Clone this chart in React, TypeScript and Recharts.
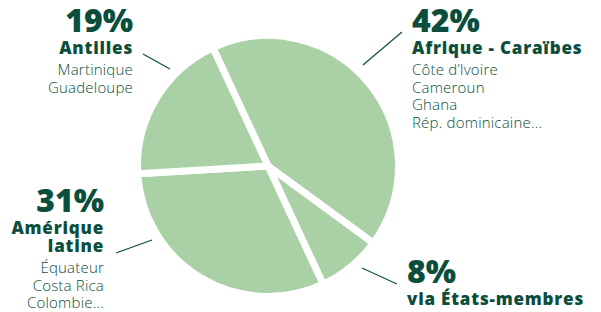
import React from 'react';
import { PieChart, Pie, Cell } from 'recharts';

const regions = ['Afrique - Caraïbes', 'via États-membres', 'Amérique latine', 'Antilles'];
const shares = [42, 8, 31, 19];
const titleLines = [['Afrique - Caraïbes'], ['via États-membres'], ['Amérique', 'latine'], ['Antilles']];
const countryLines = [
  ['Côte d’Ivoire', 'Cameroun', 'Ghana', 'Rép. dominicaine...'],
  [],
  ['Équateur', 'Costa Rica', 'Colombie...'],
  ['Martinique', 'Guadeloupe'],
];

const data = regions.map((name, i) => ({ name, value: shares[i] }));

const GREEN = '#aad0a6';
const INK = '#0b4e3c';
const FONT = '"Open Sans", sans-serif';

// label placement relative to the pie centre
const layout = [
  { anchor: 'start', x: 144, y: -134, line: [95, -101, 134, -134] },
  { anchor: 'start', x: 139, y: 117, line: [94, 102, 129, 118] },
  { anchor: 'end', x: -164, y: 46, line: [-116, 74, -152, 87] },
  { anchor: 'end', x: -135, y: -134, line: [-98, -97, -125, -112] },
];

function renderLabel(props: any) {
  const { cx, cy, index } = props;
  const l = layout[index];
  const x = cx + l.x;
  const y = cy + l.y;
  const titles = titleLines[index];
  const countries = countryLines[index];
  const lastTitleY = y + 22 + (titles.length - 1) * 18;
  return (
    <g key={`lbl-${index}`}>
      <line
        x1={cx + l.line[0]}
        y1={cy + l.line[1]}
        x2={cx + l.line[2]}
        y2={cy + l.line[3]}
        stroke={INK}
        strokeWidth={1.2}
      />
      <text x={x} y={y} textAnchor={l.anchor} fill={INK} fontFamily={FONT} fontWeight={800} fontSize={32}>
        {shares[index]}%
      </text>
      {titles.map((t, j) => (
        <text
          key={t}
          x={x}
          y={y + 22 + j * 18}
          textAnchor={l.anchor}
          fill={INK}
          fontFamily={FONT}
          fontWeight={800}
          fontSize={17}
          letterSpacing={0.8}
        >
          {t}
        </text>
      ))}
      {countries.map((c, j) => (
        <text
          key={c}
          x={x}
          y={lastTitleY + 21 + j * 17.5}
          textAnchor={l.anchor}
          fill={INK}
          fontFamily={FONT}
          fontWeight={300}
          fontSize={15}
          letterSpacing={0.2}
        >
          {c}
        </text>
      ))}
    </g>
  );
}

export default function App() {
  return (
    <div style={{ position: 'absolute', left: 0, top: 0, width: 601, height: 312, background: '#fff' }}>
      <PieChart width={601} height={312} margin={{ top: 0, right: 0, bottom: 0, left: 0 }}>
        <Pie
          data={data}
          dataKey="value"
          nameKey="name"
          cx={268}
          cy={166}
          innerRadius={0}
          outerRadius={130.5}
          startAngle={115}
          endAngle={-245}
          stroke="#ffffff"
          strokeWidth={7}
          label={renderLabel}
          labelLine={false}
          isAnimationActive={false}
        >
          {data.map((d) => (
            <Cell key={d.name} fill={GREEN} stroke="#ffffff" strokeWidth={7} />
          ))}
        </Pie>
      </PieChart>
    </div>
  );
}
